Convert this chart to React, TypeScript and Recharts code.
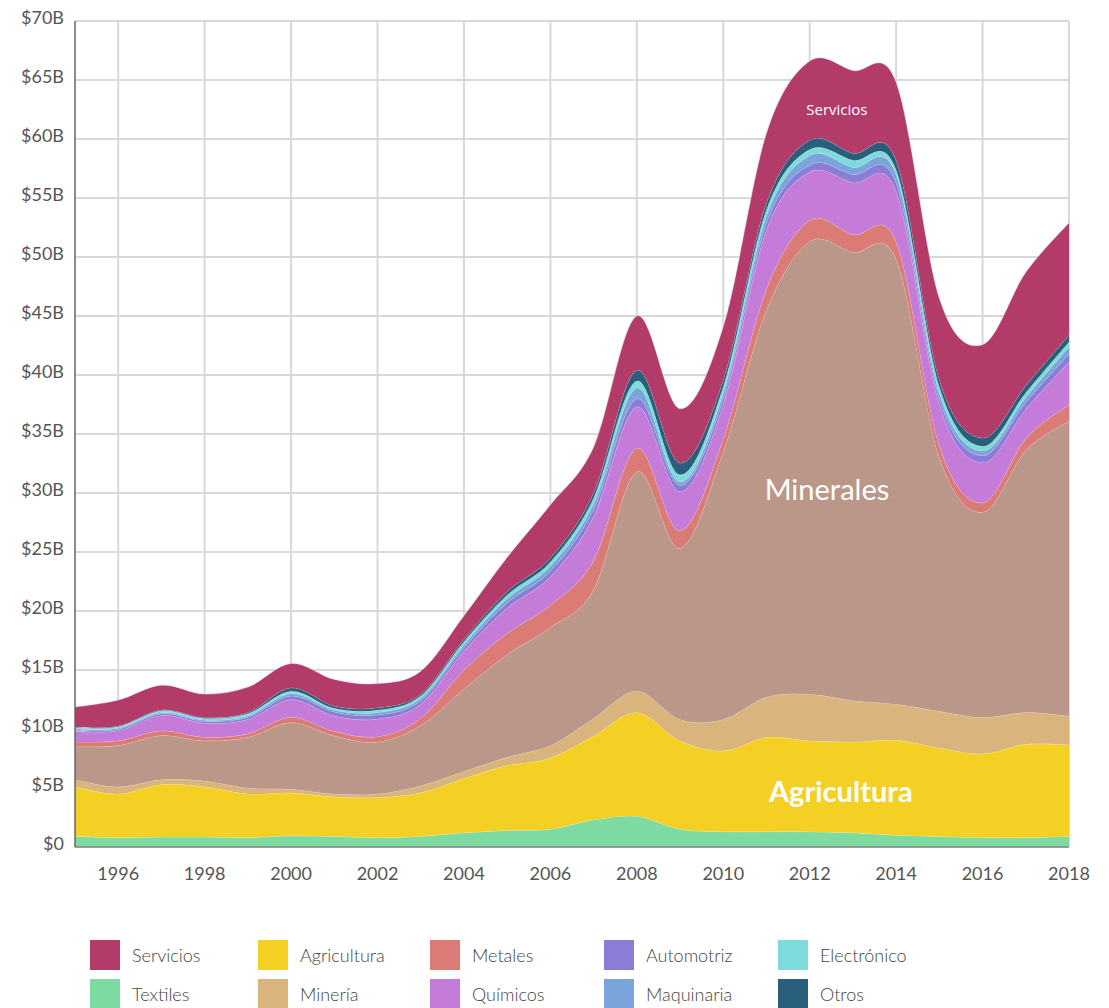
import React from 'react';
import { AreaChart, Area, XAxis, YAxis, CartesianGrid, ReferenceDot } from 'recharts';

const years = [1995, 1996, 1997, 1998, 1999, 2000, 2001, 2002, 2003, 2004, 2005, 2006, 2007, 2008, 2009, 2010, 2011, 2012, 2013, 2014, 2015, 2016, 2017, 2018];

const textiles = [0.9, 0.8, 0.85, 0.85, 0.8, 0.95, 0.9, 0.8, 0.9, 1.2, 1.4, 1.5, 2.3, 2.6, 1.5, 1.3, 1.3, 1.3, 1.2, 1.0, 0.9, 0.8, 0.8, 0.9];
const agricultura = [4.2, 3.7, 4.45, 4.25, 3.7, 3.65, 3.35, 3.4, 3.7, 4.6, 5.5, 6.05, 7.1, 8.8, 7.5, 6.85, 8.0, 7.7, 7.7, 8.05, 7.5, 7.1, 7.9, 7.75];
const mineria = [0.6, 0.6, 0.4, 0.5, 0.5, 0.3, 0.25, 0.3, 0.6, 0.6, 0.7, 1.05, 1.5, 1.8, 1.8, 2.65, 3.4, 3.95, 3.5, 3.05, 3.1, 3.07, 2.7, 2.45];
const minerales = [2.8, 3.5, 3.75, 3.4, 4.3, 5.65, 4.9, 4.4, 5.1, 7.0, 8.7, 10.0, 10.9, 18.6, 14.5, 22.7, 32.8, 38.35, 38.0, 37.7, 21.5, 17.4, 22.2, 25.0];
const metales = [0.4, 0.4, 0.4, 0.3, 0.3, 0.45, 0.4, 0.45, 0.6, 1.6, 1.8, 1.9, 2.5, 2.0, 1.5, 1.1, 1.8, 1.8, 1.5, 1.5, 1.0, 0.8, 1.0, 1.4];
const quimicos = [0.9, 0.85, 1.3, 1.2, 1.2, 1.5, 1.3, 1.5, 1.2, 1.6, 2.15, 2.4, 3.7, 3.5, 3.3, 2.9, 5.0, 4.1, 4.4, 4.3, 3.5, 3.4, 2.5, 3.6];
const automotriz = [0.1, 0.12, 0.15, 0.15, 0.2, 0.3, 0.35, 0.35, 0.3, 0.3, 0.45, 0.5, 0.6, 0.7, 0.55, 0.5, 0.6, 0.6, 0.7, 0.7, 0.5, 0.6, 0.6, 0.7];
const maquinaria = [0.1, 0.1, 0.1, 0.1, 0.12, 0.2, 0.15, 0.2, 0.2, 0.25, 0.35, 0.4, 0.5, 0.9, 0.3, 0.5, 0.6, 0.8, 0.6, 0.7, 0.5, 0.4, 0.4, 0.6];
const electronico = [0.1, 0.12, 0.15, 0.15, 0.18, 0.2, 0.15, 0.2, 0.2, 0.25, 0.3, 0.35, 0.45, 0.6, 0.6, 0.5, 0.5, 0.5, 0.6, 0.4, 0.5, 0.4, 0.4, 0.4];
const otros = [0.05, 0.06, 0.06, 0.06, 0.1, 0.3, 0.2, 0.2, 0.15, 0.2, 0.3, 0.35, 0.45, 0.9, 1.0, 0.6, 0.6, 0.8, 0.6, 0.8, 0.6, 0.7, 0.6, 0.6];
const servicios = [1.7, 2.2, 2.1, 2.0, 2.15, 2.05, 2.25, 2.05, 1.95, 2.0, 2.9, 4.5, 3.9, 4.6, 4.6, 4.5, 5.9, 6.7, 7.0, 6.6, 6.9, 7.9, 9.6, 9.5];

const yTicks = [0, 5, 10, 15, 20, 25, 30, 35, 40, 45, 50, 55, 60, 65, 70];
const xTicks = [1996, 1998, 2000, 2002, 2004, 2006, 2008, 2010, 2012, 2014, 2016, 2018];

// stacking order bottom -> top
const series = [
  { key: 'Textiles', values: textiles, color: '#7ddaa1' },
  { key: 'Agricultura', values: agricultura, color: '#f5d024' },
  { key: 'Minería', values: mineria, color: '#d9b47c' },
  { key: 'Minerales', values: minerales, color: '#bb978a' },
  { key: 'Metales', values: metales, color: '#da7b76' },
  { key: 'Químicos', values: quimicos, color: '#c57bd8' },
  { key: 'Automotriz', values: automotriz, color: '#8b7cd6' },
  { key: 'Maquinaria', values: maquinaria, color: '#7ba4da' },
  { key: 'Electrónico', values: electronico, color: '#7ddcdb' },
  { key: 'Otros', values: otros, color: '#2a5f7b' },
  { key: 'Servicios', values: servicios, color: '#b33b6a' },
];

const legendRows = [
  ['Servicios', 'Agricultura', 'Metales', 'Automotriz', 'Electrónico'],
  ['Textiles', 'Minería', 'Químicos', 'Maquinaria', 'Otros'],
];

const data = years.map((year, i) => {
  const row: Record<string, number> = { year };
  series.forEach((s) => {
    row[s.key] = s.values[i];
  });
  return row;
});

// Uniform Catmull-Rom (cardinal, tension 0) curve factory
function catmullRom(context: any) {
  let pts: number[][] = [];
  let line = NaN;
  return {
    areaStart() {
      line = 0;
    },
    areaEnd() {
      line = NaN;
    },
    lineStart() {
      pts = [];
    },
    point(x: number, y: number) {
      pts.push([+x, +y]);
    },
    lineEnd() {
      const n = pts.length;
      if (n > 0) {
        if (line) context.lineTo(pts[0][0], pts[0][1]);
        else context.moveTo(pts[0][0], pts[0][1]);
        if (n === 2) {
          context.lineTo(pts[1][0], pts[1][1]);
        } else {
          for (let i = 0; i < n - 1; i++) {
            const p0 = pts[Math.max(i - 1, 0)];
            const p1 = pts[i];
            const p2 = pts[i + 1];
            const p3 = pts[Math.min(i + 2, n - 1)];
            context.bezierCurveTo(
              p1[0] + (p2[0] - p0[0]) / 6,
              p1[1] + (p2[1] - p0[1]) / 6,
              p2[0] - (p3[0] - p1[0]) / 6,
              p2[1] - (p3[1] - p1[1]) / 6,
              p2[0],
              p2[1]
            );
          }
        }
      }
      if (line || (line !== 0 && n === 1)) context.closePath();
      line = 1 - line;
    },
  };
}

const colorOf = (k: string) => (series.find((s) => s.key === k) as any).color;

const legendX = [90, 258, 430, 604, 778];
const legendY = [940, 979];

export default function App() {
  return (
    <div style={{ position: 'relative', width: 1093, height: 1008, marginTop: -8, fontFamily: 'Lato, sans-serif' }}>
      <AreaChart width={1093} height={888} data={data} margin={{ top: 21, right: 32, left: 0, bottom: 0 }}>
        <CartesianGrid stroke="#d8d8d8" strokeWidth={2} verticalValues={xTicks} horizontalValues={yTicks} />
        <XAxis
          dataKey="year"
          type="number"
          domain={[1995, 2018]}
          ticks={xTicks}
          height={41}
          tickLine={false}
          tickSize={0}
          tickMargin={20}
          axisLine={{ stroke: '#888', strokeWidth: 1.5 }}
          tick={{ fill: '#555', fontSize: 18, fontFamily: 'Lato' }}
        />
        <YAxis
          type="number"
          domain={[0, 70]}
          ticks={yTicks}
          width={67}
          tickLine={false}
          tickSize={0}
          tickMargin={11}
          axisLine={{ stroke: '#666', strokeWidth: 1.5 }}
          tick={{ fill: '#555', fontSize: 18, fontFamily: 'Lato', dy: -3 }}
          tickFormatter={(v: number) => (v === 0 ? '$0' : `$${v}B`)}
        />
        {series.map((s) => (
          <Area
            key={s.key}
            dataKey={s.key}
            stackId="1"
            type={catmullRom as any}
            fill={s.color}
            fillOpacity={1}
            stroke="#ffffff"
            strokeOpacity={0.35}
            strokeWidth={1}
            dot={false}
            activeDot={false}
            isAnimationActive={false}
          />
        ))}
        <ReferenceDot
          x={2012.4}
          y={30.3}
          r={0}
          fill="none"
          stroke="none"
          label={{ value: 'Minerales', position: 'center', fill: '#ffffff', fontSize: 29, fontFamily: 'Lato' }}
        />
        <ReferenceDot
          x={2012.72}
          y={4.66}
          r={0}
          fill="none"
          stroke="none"
          label={{ value: 'Agricultura', position: 'center', fill: '#ffffff', fontSize: 29, fontWeight: 700, fontFamily: 'Lato' }}
        />
        <ReferenceDot
          x={2012.63}
          y={62.5}
          r={0}
          fill="none"
          stroke="none"
          label={{ value: 'Servicios', position: 'center', fill: '#ffffff', fontSize: 15, fontFamily: 'Open Sans' }}
        />
      </AreaChart>
      {legendRows.map((row, ri) =>
        row.map((name, ci) => (
          <div
            key={name}
            style={{
              position: 'absolute',
              left: legendX[ci] - 8,
              top: legendY[ri],
              display: 'flex',
              alignItems: 'center',
              height: 30,
            }}
          >
            <div style={{ width: 30, height: 30, background: colorOf(name) }} />
            <span style={{ marginLeft: 12, fontSize: 18, color: '#444', fontFamily: 'Lato', fontWeight: 300 }}>{name}</span>
          </div>
        ))
      )}
    </div>
  );
}
